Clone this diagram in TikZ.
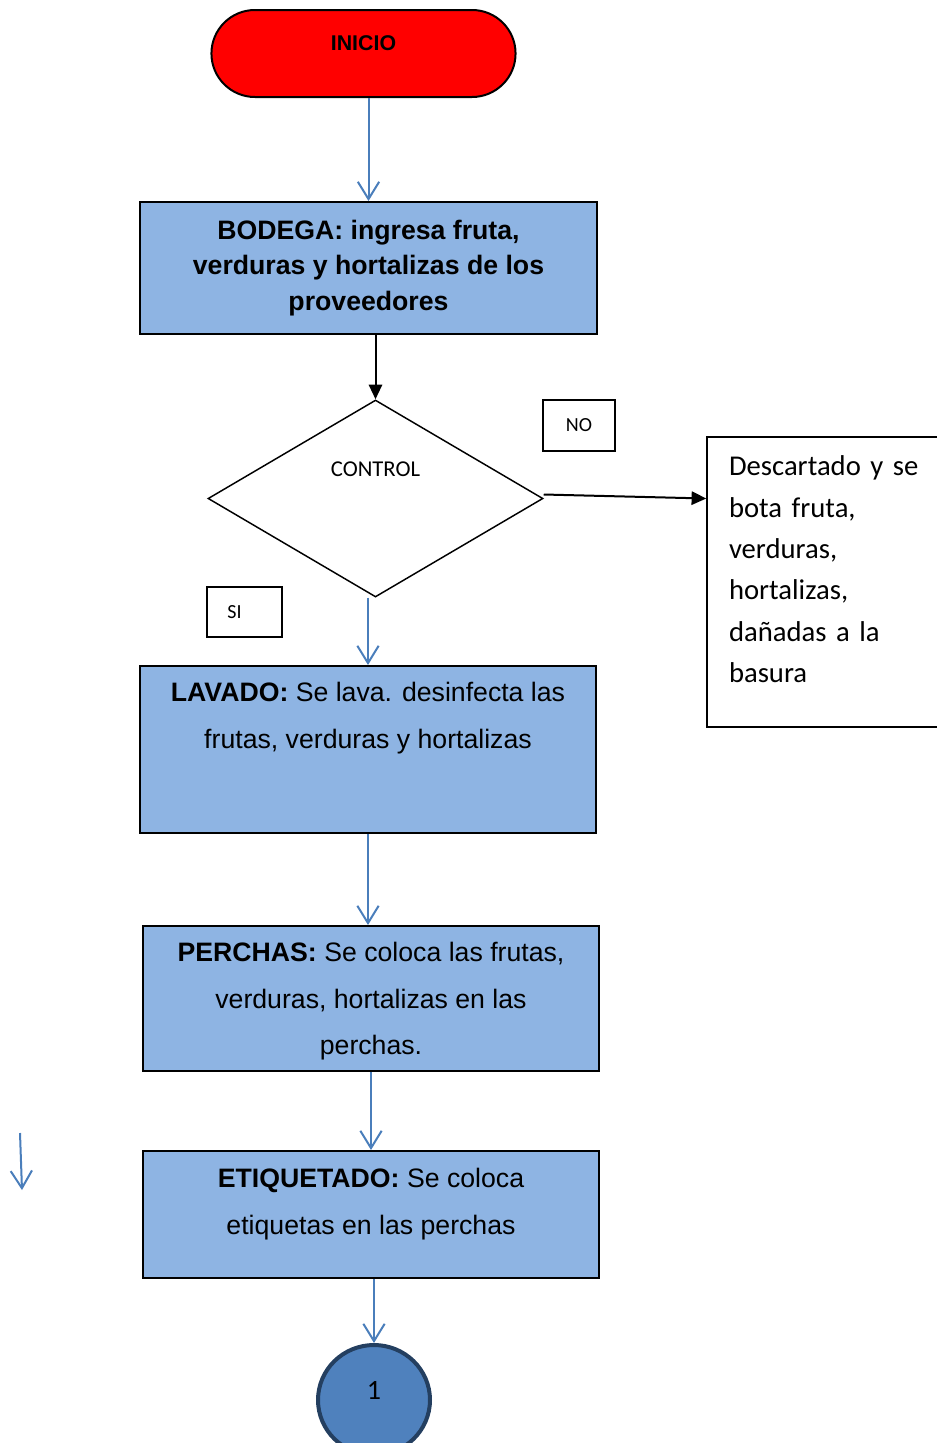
\documentclass[tikz,border=0pt]{standalone}
\usepackage{fontspec}
\setmainfont{Liberation Sans}
\newfontfamily\calibri{Carlito}
\usepackage{xcolor}
\usepackage{tikz}
\usetikzlibrary{shapes.geometric, shapes.misc, arrows.meta, positioning, calc}

\definecolor{flechaazul}{RGB}{74,126,187}
\definecolor{cajaazul}{RGB}{142,180,227}
\definecolor{nodoazul}{RGB}{79,129,189}
\definecolor{bordeazul}{RGB}{36,63,96}

\begin{document}
\begin{tikzpicture}[
			x=0.75pt, y=-0.75pt,
			inicio/.style={rounded rectangle, draw=black, fill=red, line width=1.5pt, minimum width=234.75pt, minimum height=65.25pt, font=\fontsize{16pt}{19pt}\selectfont\bfseries, text depth=15pt},
			proceso/.style={rectangle, draw=black, fill=cajaazul, line width=1.5pt, minimum width=342pt, align=center, font=\fontsize{20pt}{35pt}\selectfont},
			decision/.style={diamond, draw=black, line width=1.1pt, inner sep=0pt, minimum width=251.25pt, minimum height=147.75pt, font=\calibri\fontsize{17pt}{20pt}\selectfont, text depth=44pt},
			etiqueta/.style={rectangle, draw=black, line width=1.1pt, font=\calibri\fontsize{15pt}{18pt}\selectfont},
			nota/.style={rectangle, draw=black, line width=1.1pt, inner xsep=16.5pt, text width=162pt, align=left, minimum height=217.5pt, font=\calibri\fontsize{21.5pt}{31pt}\selectfont},
			conector/.style={ellipse, draw=bordeazul, fill=nodoazul, line width=3pt, minimum width=84pt, minimum height=82.5pt, font=\calibri\fontsize{21pt}{24pt}\selectfont, text depth=15pt},
			flecha/.style={-{Straight Barb[length=13pt, width=16pt]}, line width=1.5pt, color=flechaazul},
			flechanegra/.style={-{Triangle[length=11pt, width=10pt]}, line width=1.5pt, color=black}
			]
			
			\useasboundingbox (0,0) rectangle (936,1443);
			
			% --- Main column ---
			\node[inicio] (inicio) at (363.5, 53.5) {INICIO};
			\node[proceso, minimum width=342.75pt, minimum height=99pt, font=\fontsize{20pt}{26.6pt}\selectfont\bfseries] (bodega) at (368.5, 268) {BODEGA: ingresa fruta,\\verduras y hortalizas de los\\proveedores};
			\node[decision] (control) at (375.5, 498.5) {CONTROL};
			\node[proceso, minimum height=125.25pt] (lavado) at (368, 749.5) {\textbf{LAVADO:} Se lava. desinfecta las\\frutas, verduras y hortalizas\\[16pt]\mbox{}};
			\node[proceso, minimum height=108.75pt, text depth=-4pt] (perchas) at (371, 998.5) {\textbf{PERCHAS:} Se coloca las frutas,\\verduras, hortalizas en las\\perchas.};
			\node[proceso, minimum height=95.25pt, text depth=20pt] (etiquetado) at (371, 1214.5) {\textbf{ETIQUETADO:} Se coloca\\etiquetas en las perchas};
			\node[conector] (fin) at (374, 1400) {1};
			
			% --- Decision labels and discard box ---
			\node[etiqueta, minimum width=54pt, minimum height=38.25pt] (no) at (579, 425.5) {NO};
			\node[etiqueta, minimum width=56.25pt, minimum height=37.5pt] (si) at (244.5, 612) {\hspace*{-15pt}SI};
			\node[nota] (descarte) at (837, 582) {Descartado y se\\bota fruta,\\verduras,\\hortalizas,\\dañadas a la\\basura\\[-12pt]\mbox{}};
			
			% --- Flow ---
			\draw[flecha] (inicio.south -| bodega.north) -- (bodega.north);
			\draw[flechanegra] (bodega.south -| control.north) -- (control.north);
			\draw[flechanegra] ([yshift=3pt]control.east) -- (control.east -| descarte.west);
			\draw[flecha] (control.south -| lavado.north) -- (lavado.north);
			\draw[flecha] (lavado.south) -- (lavado.south |- perchas.north);
			\draw[flecha] (perchas.south) -- (etiquetado.north);
			\draw[flecha] (etiquetado.south -| fin.north) -- (fin.north);
			
			% --- Loose arrow on the left ---
			\coordinate (sueltoA) at (20, 1133);
			\coordinate (sueltoB) at (22, 1190);
			\draw[flecha] (sueltoA) -- (sueltoB);
			
			\end{tikzpicture}
\end{document}
